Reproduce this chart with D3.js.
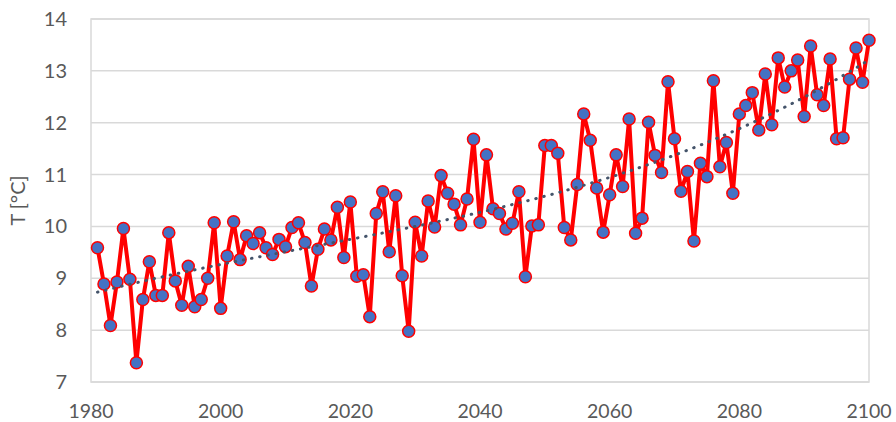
<!DOCTYPE html>
<meta charset="utf-8">
<html>
<script src="https://d3js.org/d3.v7.min.js"></script>
<style>
  body { margin: 0; background: #fff; }
  text { font-family: Lato, "Open Sans", sans-serif; fill: #595959; }
</style>
<div id="chart"></div>
<script>

// yearly temperature, 1981..2100
var firstYear = 1981;
var temps = [
  9.59, 8.89, 8.09, 8.93, 9.96, 8.98, 7.37, 8.59, 9.32, 8.67,
  8.67, 9.88, 8.95, 8.48, 9.23, 8.45, 8.59, 9.00, 10.07, 8.42,
  9.43, 10.09, 9.36, 9.82, 9.67, 9.88, 9.59, 9.46, 9.75, 9.61,
  9.98, 10.07, 9.69, 8.85, 9.56, 9.95, 9.74, 10.37, 9.40, 10.47,
  9.04, 9.07, 8.26, 10.25, 10.67, 9.51, 10.59, 9.05, 7.98, 10.08,
  9.43, 10.49, 9.99, 10.98, 10.64, 10.43, 10.03, 10.53, 11.68, 10.08,
  11.38, 10.34, 10.25, 9.95, 10.06, 10.67, 9.03, 10.01, 10.03, 11.56,
  11.56, 11.41, 9.98, 9.74, 10.81, 12.17, 11.66, 10.74, 9.89, 10.61,
  11.38, 10.77, 12.07, 9.87, 10.16, 12.01, 11.37, 11.04, 12.79, 11.69,
  10.68, 11.06, 9.72, 11.22, 10.96, 12.81, 11.15, 11.62, 10.64, 12.17,
  12.33, 12.58, 11.86, 12.94, 11.96, 13.25, 12.69, 13.00, 13.21, 12.12,
  13.48, 12.54, 12.33, 13.23, 11.69, 11.71, 12.84, 13.44, 12.78, 13.59
];
var xTicks = [1980, 2000, 2020, 2040, 2060, 2080, 2100];
var yTicks = [7, 8, 9, 10, 11, 12, 13, 14];
var trendOrder = 3;

var data = temps.map(function(t, i) { return {year: firstYear + i, t: t}; });

var width = 896, height = 422;
var margin = {left: 91, right: 27, top: 19, bottom: 40};

var svg = d3.select("#chart").append("svg")
  .attr("width", width)
  .attr("height", height);

var x = d3.scaleLinear().domain([1980, 2100]).range([margin.left, width - margin.right]);
var y = d3.scaleLinear().domain([7, 14]).range([height - margin.bottom, margin.top]);

// gridlines
svg.append("g")
  .selectAll("line")
  .data(yTicks)
  .enter().append("line")
    .attr("x1", x(1980)).attr("x2", x(2100))
    .attr("y1", function(d) { return y(d); })
    .attr("y2", function(d) { return y(d); })
    .attr("stroke", "#d9d9d9")
    .attr("stroke-width", 1.5);

// plot border
svg.append("rect")
  .attr("x", x(1980)).attr("y", y(14))
  .attr("width", x(2100) - x(1980))
  .attr("height", y(7) - y(14))
  .attr("fill", "none")
  .attr("stroke", "#d9d9d9")
  .attr("stroke-width", 1.5);

// tick labels
svg.append("g")
  .selectAll("text")
  .data(yTicks)
  .enter().append("text")
    .attr("x", x(1980) - 24)
    .attr("y", function(d) { return y(d); })
    .attr("dy", "0.35em")
    .attr("text-anchor", "end")
    .style("font-size", "20px")
    .text(function(d) { return d; });

svg.append("g")
  .selectAll("text")
  .data(xTicks)
  .enter().append("text")
    .attr("x", function(d) { return x(d); })
    .attr("y", 418)
    .attr("text-anchor", "middle")
    .style("font-size", "19.5px")
    .text(function(d) { return d; });

svg.append("text")
  .attr("transform", "translate(25," + (y(10.5)) + ") rotate(-90)")
  .attr("text-anchor", "middle")
  .style("font-size", "20px")
  .text("T [°C]");

// series line
var line = d3.line()
  .x(function(d) { return x(d.year); })
  .y(function(d) { return y(d.t); });

svg.append("path")
  .datum(data)
  .attr("d", line)
  .attr("fill", "none")
  .attr("stroke", "#ff0000")
  .attr("stroke-width", 4)
  .attr("stroke-linejoin", "round");

// markers
svg.append("g")
  .selectAll("circle")
  .data(data)
  .enter().append("circle")
    .attr("cx", function(d) { return x(d.year); })
    .attr("cy", function(d) { return y(d.t); })
    .attr("r", 6)
    .attr("fill", "#4472c4")
    .attr("stroke", "#ff0000")
    .attr("stroke-width", 1.5);

// polynomial trendline, least squares on the data (normal equations + gauss)
var mx = d3.mean(data, function(d) { return d.year; });
var n = trendOrder + 1;
var A = d3.range(n).map(function() { return d3.range(n + 1).map(function() { return 0; }); });
data.forEach(function(d) {
  var u = (d.year - mx) / 60;
  for (var i = 0; i < n; i++) {
    for (var j = 0; j < n; j++) A[i][j] += Math.pow(u, i + j);
    A[i][n] += d.t * Math.pow(u, i);
  }
});
for (var i = 0; i < n; i++) {
  for (var k = i + 1; k < n; k++) {
    var f = A[k][i] / A[i][i];
    for (var j = i; j <= n; j++) A[k][j] -= f * A[i][j];
  }
}
var coef = [];
for (var i = n - 1; i >= 0; i--) {
  var s = A[i][n];
  for (var j = i + 1; j < n; j++) s -= A[i][j] * coef[j];
  coef[i] = s / A[i][i];
}
var trend = data.map(function(d) {
  var u = (d.year - mx) / 60;
  return {year: d.year, t: d3.sum(coef, function(c, k) { return c * Math.pow(u, k); })};
});

svg.append("path")
  .datum(trend)
  .attr("d", line)
  .attr("fill", "none")
  .attr("stroke", "#44546a")
  .attr("stroke-width", 3)
  .attr("stroke-linecap", "round")
  .attr("stroke-dasharray", "0.5 7.8");

</script>
</html>
